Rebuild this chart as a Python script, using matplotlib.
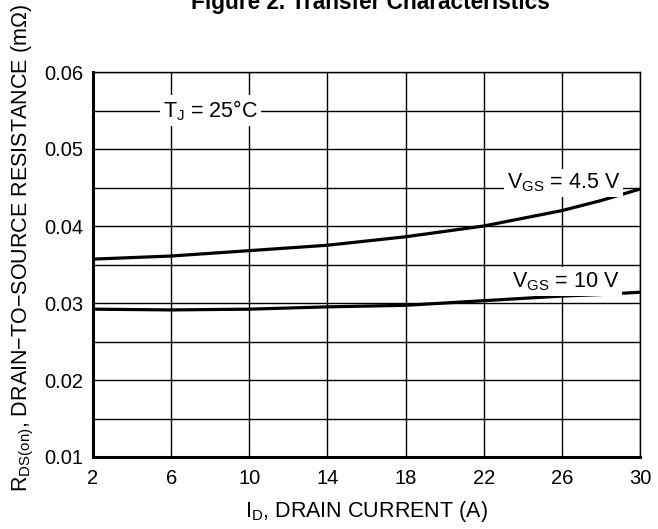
import matplotlib
matplotlib.use('Agg')
import matplotlib.pyplot as plt

plt.rcParams['font.family'] = ['Liberation Sans', 'DejaVu Sans']
plt.rcParams['mathtext.fontset'] = 'custom'
plt.rcParams['mathtext.rm'] = 'Liberation Sans'
plt.rcParams['mathtext.it'] = 'Liberation Sans'
plt.rcParams['font.size'] = 14.5

# drain current (A)
i_d = [2, 6, 10, 14, 18, 22, 24, 26, 28, 30]
# RDS(on) curves
r_vgs45 = [0.0357, 0.0361, 0.0368, 0.0375, 0.0386, 0.0400, 0.0410, 0.0420, 0.0433, 0.0448]
r_vgs10 = [0.0292, 0.0291, 0.0292, 0.0295, 0.0297, 0.0303, 0.0306, 0.0309, 0.0311, 0.0314]

x_ticks = [2, 6, 10, 14, 18, 22, 26, 30]
y_ticks = [0.01, 0.02, 0.03, 0.04, 0.05, 0.06]
y_grid = [0.015, 0.025, 0.035, 0.045, 0.055]

fig = plt.figure(figsize=(6.58, 5.29), dpi=100)
ax = fig.add_axes([93/658, 1 - 457/529, 547/658, 385/529])

ax.set_xlim(2, 30)
ax.set_ylim(0.01, 0.06)
ax.set_xticks(x_ticks)
ax.set_yticks(y_ticks)
ax.set_yticklabels(['0.01', '0.02', '0.03', '0.04', '0.05', '0.06'])
ax.set_yticks(y_grid, minor=True)
ax.tick_params(which='both', length=0)
ax.tick_params(axis='x', pad=9)
ax.tick_params(axis='y', pad=7)
ax.grid(True, which='both', color='black', lw=1.0)

for s in ['left', 'bottom']:
    ax.spines[s].set_linewidth(2.2)
for s in ['top', 'right']:
    ax.spines[s].set_linewidth(1.0)

ax.plot(i_d, r_vgs45, color='black', lw=2.3, solid_capstyle='butt')
ax.plot(i_d, r_vgs10, color='black', lw=2.3, solid_capstyle='butt')

box = dict(facecolor='white', edgecolor='none', pad=2)
ax.text(8.0, 0.055, r'T$_\mathregular{J}$ = 25°C', ha='center', va='center',
        fontsize=15.5, bbox=box)
ax.text(26.1, 0.0456, r'V$_\mathregular{GS}$ = 4.5 V', ha='center', va='center',
        fontsize=15.5, bbox=box)
ax.text(26.2, 0.0328, r'V$_\mathregular{GS}$ = 10 V', ha='center', va='center',
        fontsize=15.5, bbox=box)

fig.text(370/658, 1 - 9/529, 'Figure 2. Transfer Characteristics', ha='center',
         va='baseline', fontweight='bold', fontsize=16.3)
fig.text(366/658, 1 - 512/529, r'I$_\mathregular{D}$, DRAIN CURRENT (A)', ha='center',
         va='center', fontsize=15.5)
fig.text(23/658, 1 - 248/529, r'R$_\mathregular{DS(on)}$, DRAIN−TO−SOURCE RESISTANCE (mΩ)',
         ha='center', va='center', rotation=90, fontsize=15.5)

fig.savefig('out.png', dpi=100)
